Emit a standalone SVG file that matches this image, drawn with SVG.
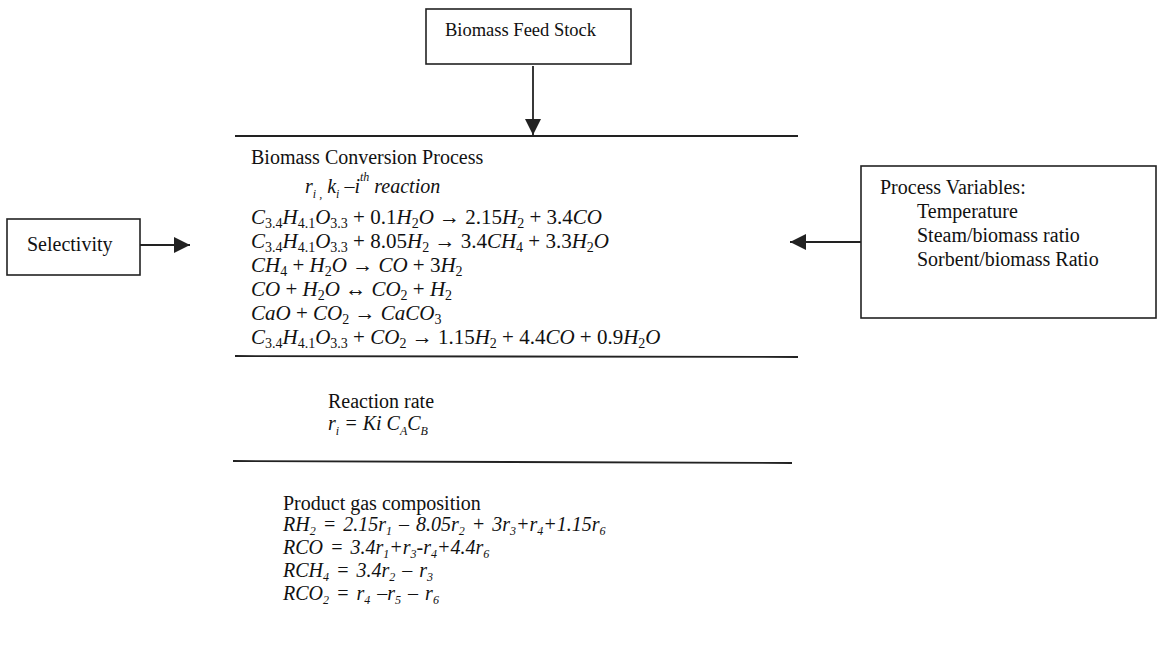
<svg xmlns="http://www.w3.org/2000/svg" width="1158" height="648" viewBox="0 0 1158 648">
<style>
.t{font-family:"Liberation Serif",serif;font-size:20px;fill:#111}
.i{font-style:italic}
.eq{font-family:"Liberation Serif",serif;font-size:21px;fill:#111}
.sb{font-size:12px}
.es{font-size:14px}
.box{fill:#fff;stroke:#222;stroke-width:1.6}
.ln{stroke:#222;stroke-width:1.8;fill:none}
</style>
<defs>
<marker id="ah" viewBox="0 0 10 10" refX="10" refY="5" markerWidth="16" markerHeight="16" markerUnits="userSpaceOnUse" orient="auto">
<path d="M0,0 L10,5 L0,10 z" fill="#222"/>
</marker>
</defs>
<rect width="1158" height="648" fill="#fff"/>
<g id="feedstock">
<rect class="box" x="426" y="9" width="205" height="55"/>
<text class="t" x="445" y="36" style="font-size:18.5px">Biomass Feed Stock</text>
</g>
<g id="selectivity">
<rect class="box" x="7" y="219" width="133" height="56"/>
<text class="t" x="27" y="251">Selectivity</text>
</g>
<g id="process-variables">
<rect class="box" x="861" y="166" width="295" height="152"/>
<text class="t" x="880" y="194">Process Variables:</text>
<text class="t" x="917" y="218">Temperature</text>
<text class="t" x="917" y="242">Steam/biomass ratio</text>
<text class="t" x="917" y="266">Sorbent/biomass Ratio</text>
</g>
<g id="conversion">
<line class="ln" x1="235" y1="136" x2="798" y2="136"/>
<text class="t" x="251" y="164">Biomass Conversion Process</text>
<text class="t i" x="305" y="193">r<tspan class="sb" dy="5">i ,</tspan><tspan dy="-5"> k</tspan><tspan class="sb" dy="5">i</tspan><tspan dy="-5"> –i</tspan><tspan class="sb" dy="-12">th</tspan><tspan dy="12"> reaction</tspan></text>
<text class="eq" x="251" y="224"><tspan class="i">C</tspan><tspan class="es" dy="4">3.4</tspan><tspan class="i" dy="-4">H</tspan><tspan class="es" dy="4">4.1</tspan><tspan class="i" dy="-4">O</tspan><tspan class="es" dy="4">3.3</tspan><tspan dy="-4"> + 0.1</tspan><tspan class="i">H</tspan><tspan class="es" dy="4">2</tspan><tspan class="i" dy="-4">O</tspan><tspan> → 2.15</tspan><tspan class="i">H</tspan><tspan class="es" dy="4">2</tspan><tspan dy="-4"> + 3.4</tspan><tspan class="i">CO</tspan></text>
<text class="eq" x="251" y="248"><tspan class="i">C</tspan><tspan class="es" dy="4">3.4</tspan><tspan class="i" dy="-4">H</tspan><tspan class="es" dy="4">4.1</tspan><tspan class="i" dy="-4">O</tspan><tspan class="es" dy="4">3.3</tspan><tspan dy="-4"> + 8.05</tspan><tspan class="i">H</tspan><tspan class="es" dy="4">2</tspan><tspan dy="-4"> → 3.4</tspan><tspan class="i">CH</tspan><tspan class="es" dy="4">4</tspan><tspan dy="-4"> + 3.3</tspan><tspan class="i">H</tspan><tspan class="es" dy="4">2</tspan><tspan class="i" dy="-4">O</tspan></text>
<text class="eq" x="251" y="272"><tspan class="i">CH</tspan><tspan class="es" dy="4">4</tspan><tspan dy="-4"> + </tspan><tspan class="i">H</tspan><tspan class="es" dy="4">2</tspan><tspan class="i" dy="-4">O</tspan><tspan> → </tspan><tspan class="i">CO</tspan><tspan> + 3</tspan><tspan class="i">H</tspan><tspan class="es" dy="4">2</tspan></text>
<text class="eq" x="251" y="296"><tspan class="i">CO</tspan><tspan> + </tspan><tspan class="i">H</tspan><tspan class="es" dy="4">2</tspan><tspan class="i" dy="-4">O</tspan><tspan> ↔ </tspan><tspan class="i">CO</tspan><tspan class="es" dy="4">2</tspan><tspan dy="-4"> + </tspan><tspan class="i">H</tspan><tspan class="es" dy="4">2</tspan></text>
<text class="eq" x="251" y="320"><tspan class="i">CaO</tspan><tspan> + </tspan><tspan class="i">CO</tspan><tspan class="es" dy="4">2</tspan><tspan dy="-4"> → </tspan><tspan class="i">CaCO</tspan><tspan class="es" dy="4">3</tspan></text>
<text class="eq" x="251" y="344"><tspan class="i">C</tspan><tspan class="es" dy="4">3.4</tspan><tspan class="i" dy="-4">H</tspan><tspan class="es" dy="4">4.1</tspan><tspan class="i" dy="-4">O</tspan><tspan class="es" dy="4">3.3</tspan><tspan dy="-4"> + </tspan><tspan class="i">CO</tspan><tspan class="es" dy="4">2</tspan><tspan dy="-4"> → 1.15</tspan><tspan class="i">H</tspan><tspan class="es" dy="4">2</tspan><tspan dy="-4"> + 4.4</tspan><tspan class="i">CO</tspan><tspan> + 0.9</tspan><tspan class="i">H</tspan><tspan class="es" dy="4">2</tspan><tspan class="i" dy="-4">O</tspan></text>
<line class="ln" x1="235" y1="356" x2="798" y2="357"/>
</g>
<g id="reaction-rate">
<text class="t" x="328" y="408">Reaction rate</text>
<text class="t i" x="328" y="430">r<tspan class="sb" dy="5">i</tspan><tspan dy="-5"> = Ki C</tspan><tspan class="sb" dy="5">A</tspan><tspan dy="-5">C</tspan><tspan class="sb" dy="5">B</tspan></text>
<line class="ln" x1="233" y1="461" x2="792" y2="463"/>
</g>
<g id="product-gas">
<text class="t" x="283" y="510">Product gas composition</text>
<text class="t i" x="283" y="531" style="word-spacing:2px">RH<tspan class="sb" dy="4">2</tspan><tspan dy="-4"> = 2.15r</tspan><tspan class="sb" dy="4">1</tspan><tspan dy="-4"> – 8.05r</tspan><tspan class="sb" dy="4">2</tspan><tspan dy="-4"> + 3r</tspan><tspan class="sb" dy="4">3</tspan><tspan dy="-4">+r</tspan><tspan class="sb" dy="4">4</tspan><tspan dy="-4">+1.15r</tspan><tspan class="sb" dy="4">6</tspan></text>
<text class="t i" x="283" y="554" style="word-spacing:2px">RCO = 3.4r<tspan class="sb" dy="4">1</tspan><tspan dy="-4">+r</tspan><tspan class="sb" dy="4">3</tspan><tspan dy="-4">-r</tspan><tspan class="sb" dy="4">4</tspan><tspan dy="-4">+4.4r</tspan><tspan class="sb" dy="4">6</tspan></text>
<text class="t i" x="283" y="577" style="word-spacing:2px">RCH<tspan class="sb" dy="4">4</tspan><tspan dy="-4"> = 3.4r</tspan><tspan class="sb" dy="4">2</tspan><tspan dy="-4"> – r</tspan><tspan class="sb" dy="4">3</tspan></text>
<text class="t i" x="283" y="600" style="word-spacing:2px">RCO<tspan class="sb" dy="4">2</tspan><tspan dy="-4"> = r</tspan><tspan class="sb" dy="4">4</tspan><tspan dy="-4"> –r</tspan><tspan class="sb" dy="4">5</tspan><tspan dy="-4"> – r</tspan><tspan class="sb" dy="4">6</tspan></text>
</g>
<g id="connectors">
<line class="ln" x1="533" y1="66" x2="533" y2="135" marker-end="url(#ah)"/>
<line class="ln" x1="140" y1="245" x2="190" y2="245" marker-end="url(#ah)"/>
<line class="ln" x1="861" y1="242" x2="790" y2="242" marker-end="url(#ah)"/>
</g>
</svg>
